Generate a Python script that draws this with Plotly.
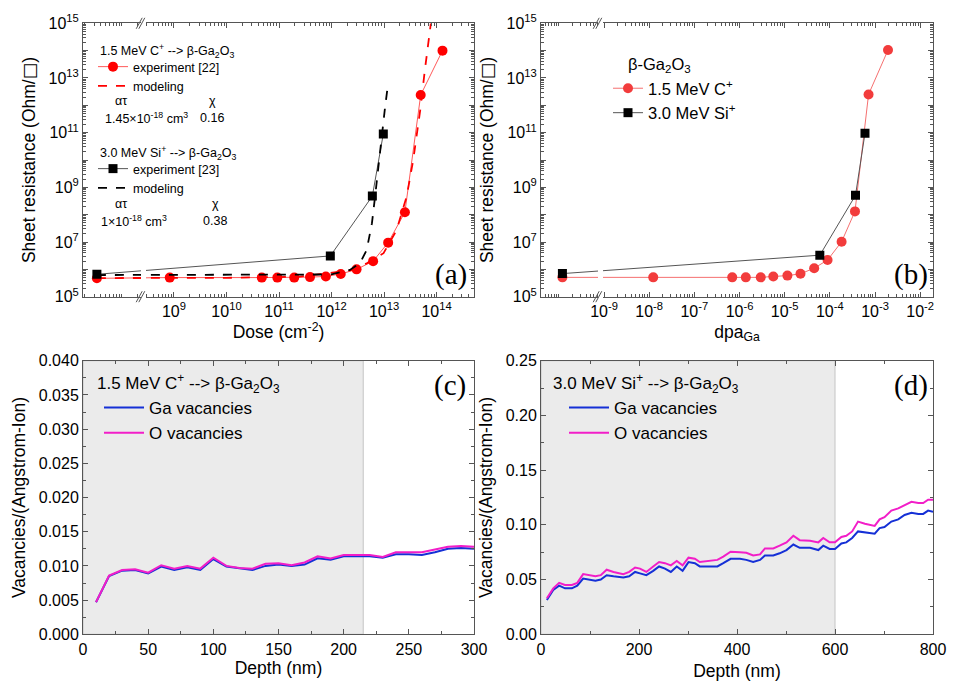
import plotly.graph_objects as go

# page is shown with an 8 px body margin, so the figure is 958x686 and
# all reference-pixel positions are shifted by that margin
OFF = 8
W, H = 966 - OFF, 694 - OFF
FONT = "Liberation Sans, Arial, sans-serif"

# ---------------- data: panel (a) sheet resistance vs dose ----------------
VIRGIN_DOSE = 3.4e7          # plotting position of the unirradiated sample (left of axis break)
VIRGIN_DPA = 1.2e-10

dose_C = [VIRGIN_DOSE, 8.3e8, 4.7e10, 9.3e10, 1.95e11, 3.9e11, 7.8e11, 1.5e12,
          3.0e12, 6.2e12, 1.2e13, 2.5e13, 5.0e13, 1.3e14]
rs_C = [4.7e5, 5.0e5, 5.0e5, 5.0e5, 5.0e5, 5.2e5, 5.5e5, 6.8e5,
        1.0e6, 2.0e6, 9.5e6, 1.23e8, 2.4e12, 1.0e14]

dose_Si = [VIRGIN_DOSE, 9.5e11, 6.0e12, 9.7e12]
rs_Si = [6.6e5, 3.1e6, 4.8e8, 9.0e10]

model_dose_C = [VIRGIN_DOSE, 1.0e10, 2.5e11, 2.6e12, 4.7e12, 9.8e12, 1.74e13,
                2.7e13, 3.6e13, 4.9e13, 6.0e13, 7.8e13]
model_rs_C = [4.8e5, 4.9e5, 5.4e5, 9.5e5, 1.66e6, 3.9e6, 2.75e7,
              4.6e8, 1.0e10, 6.8e11, 1.95e13, 1.0e15]

model_dose_Si = [VIRGIN_DOSE, 1.0e10, 2.5e11, 1.0e12, 2.24e12, 3.47e12, 4.68e12,
                 5.89e12, 6.76e12, 7.76e12, 9.12e12, 1.05e13, 1.2e13]
model_rs_Si = [6.2e5, 6.2e5, 6.2e5, 6.5e5, 9.5e5, 1.66e6, 5.1e6,
               4.9e7, 4.6e8, 5.75e9, 7.1e10, 8.9e11, 6.5e12]

# ---------------- data: panel (b) sheet resistance vs dpa ----------------
dpa_C = [VIRGIN_DPA, 1.23e-8, 6.9e-7, 1.38e-6, 2.95e-6, 5.6e-6, 1.15e-5, 2.24e-5,
         4.5e-5, 8.9e-5, 1.82e-4, 3.6e-4, 7.2e-4, 1.94e-3]
rs_C_b = [5.1e5, 5.1e5, 5.1e5, 5.1e5, 5.1e5, 5.5e5, 5.9e5, 6.9e5,
          1.1e6, 2.2e6, 1.02e7, 1.32e8, 2.5e12, 1.05e14]
dpa_Si = [VIRGIN_DPA, 6.0e-5, 3.7e-4, 6.0e-4]
rs_Si_b = [7.0e5, 3.3e6, 5.1e8, 9.5e10]

# ---------------- data: panel (c) vacancies, 1.5 MeV C+ ----------------
depth_c = [10, 20, 30, 40, 50, 60, 70, 80, 90, 100, 110, 120, 130, 140, 150,
           160, 170, 180, 190, 200, 210, 220, 230, 240, 250, 260, 270, 280, 290, 300]
ga_c = [0.00468, 0.00853, 0.0093, 0.0094, 0.0089, 0.0099, 0.0094, 0.0098, 0.0094, 0.0110,
        0.0099, 0.0096, 0.0094, 0.0100, 0.0102, 0.0100, 0.0102, 0.0111, 0.0109, 0.0114,
        0.0114, 0.0114, 0.0112, 0.0117, 0.0117, 0.0116, 0.0120, 0.0125, 0.0126, 0.0125]
o_c = [0.0047, 0.0086, 0.0094, 0.0095, 0.0090, 0.0101, 0.0096, 0.0100, 0.0096, 0.0112,
       0.0100, 0.0097, 0.0096, 0.0103, 0.0104, 0.0101, 0.0105, 0.0114, 0.0111, 0.0116,
       0.0116, 0.0116, 0.0113, 0.0120, 0.0120, 0.0120, 0.0124, 0.0128, 0.0129, 0.0128]

# ---------------- data: panel (d) vacancies, 3.0 MeV Si+ ----------------
depth_d = [12, 25, 37, 49, 63, 74, 86, 100, 111, 122, 134, 148, 168, 180, 192, 202, 215,
           229, 241, 253, 265, 277, 289, 301, 314, 324, 345, 360, 372, 387, 406, 419, 433,
           447, 457, 474, 487, 501, 515, 528, 549, 566, 576, 589, 600, 613, 623, 635, 647,
           661, 681, 691, 701, 715, 729, 742, 756, 770, 780, 790, 800]
ga_d = [0.0314, 0.0405, 0.0445, 0.042, 0.042, 0.0445, 0.051, 0.050, 0.049, 0.050,
        0.054, 0.053, 0.052, 0.053, 0.057, 0.0557, 0.054, 0.058, 0.062, 0.060,
        0.057, 0.062, 0.058, 0.066, 0.065, 0.062, 0.062, 0.062, 0.065, 0.069,
        0.069, 0.068, 0.066, 0.068, 0.072, 0.072, 0.074, 0.077, 0.082, 0.079,
        0.079, 0.077, 0.081, 0.078, 0.078, 0.083, 0.084, 0.088, 0.094, 0.093,
        0.092, 0.097, 0.098, 0.103, 0.105, 0.109, 0.111, 0.110, 0.110, 0.113, 0.112]
o_d = [0.033, 0.042, 0.047, 0.045, 0.045, 0.047, 0.055, 0.054, 0.053, 0.054,
       0.059, 0.057, 0.055, 0.057, 0.061, 0.060, 0.057, 0.062, 0.066, 0.065,
       0.063, 0.067, 0.063, 0.070, 0.069, 0.066, 0.067, 0.068, 0.071, 0.0755,
       0.075, 0.0745, 0.072, 0.073, 0.0785, 0.0785, 0.081, 0.084, 0.090, 0.086,
       0.0855, 0.084, 0.088, 0.084, 0.084, 0.089, 0.090, 0.094, 0.103, 0.101,
       0.099, 0.105, 0.107, 0.113, 0.115, 0.118, 0.121, 0.120, 0.120, 0.123, 0.123]

SHADE_C = 215   # nm, shaded (probed) depth
SHADE_D = 600

# tick labels
y_exps = list(range(5, 16))
y_ticktext = [f"10<sup>{e}</sup>" if (e % 2 == 1) else "" for e in y_exps]
xa_exps = list(range(9, 15))
xb_exps = list(range(-9, -1))

# ---------------- helpers (reference-pixel -> paper) ----------------
def px(x):
    return (x - OFF) / W

def py(y):
    return 1 - (y - OFF) / H

RED = "#ff0000"
RED_LINE = "#ff5a5a"
RED_B = "#f23c3c"
RED_B_LINE = "#f57070"
BLUE = "#1530d6"
MAG = "#f21ec8"
AXC = "#555555"

fig = go.Figure()

# panel (a)
fig.add_trace(go.Scatter(x=dose_C, y=rs_C, mode="lines+markers", name="experiment [22]",
                         line=dict(color=RED_LINE, width=1),
                         marker=dict(color=RED, size=10, symbol="circle"),
                         xaxis="x", yaxis="y", legend="legend"))
fig.add_trace(go.Scatter(x=model_dose_C, y=model_rs_C, mode="lines", name="modeling",
                         line=dict(color=RED, width=1.8, dash="dash"),
                         xaxis="x", yaxis="y", legend="legend"))
fig.add_trace(go.Scatter(x=dose_Si, y=rs_Si, mode="lines+markers", name="experiment [23]",
                         line=dict(color="#555555", width=1),
                         marker=dict(color="#000000", size=9, symbol="square"),
                         xaxis="x", yaxis="y", legend="legend2"))
fig.add_trace(go.Scatter(x=model_dose_Si, y=model_rs_Si, mode="lines", name="modeling",
                         line=dict(color="#000000", width=1.8, dash="dash"),
                         xaxis="x", yaxis="y", legend="legend2"))

# panel (b)
fig.add_trace(go.Scatter(x=dpa_C, y=rs_C_b, mode="lines+markers",
                         name="1.5 MeV C<sup>+</sup>",
                         line=dict(color=RED_B_LINE, width=1),
                         marker=dict(color=RED_B, size=10, symbol="circle"),
                         xaxis="x2", yaxis="y2", legend="legend3"))
fig.add_trace(go.Scatter(x=dpa_Si, y=rs_Si_b, mode="lines+markers",
                         name="3.0 MeV Si<sup>+</sup>",
                         line=dict(color="#555555", width=1),
                         marker=dict(color="#000000", size=9, symbol="square"),
                         xaxis="x2", yaxis="y2", legend="legend3"))

# panel (c)
fig.add_trace(go.Scatter(x=depth_c, y=ga_c, mode="lines", name="Ga vacancies",
                         line=dict(color=BLUE, width=2), xaxis="x3", yaxis="y3", legend="legend4"))
fig.add_trace(go.Scatter(x=depth_c, y=o_c, mode="lines", name="O vacancies",
                         line=dict(color=MAG, width=2), xaxis="x3", yaxis="y3", legend="legend4"))
# panel (d)
fig.add_trace(go.Scatter(x=depth_d, y=ga_d, mode="lines", name="Ga vacancies",
                         line=dict(color=BLUE, width=2), xaxis="x4", yaxis="y4", legend="legend5"))
fig.add_trace(go.Scatter(x=depth_d, y=o_d, mode="lines", name="O vacancies",
                         line=dict(color=MAG, width=2), xaxis="x4", yaxis="y4", legend="legend5"))

# ---------------- axes ----------------
dom_x_left = [px(83), px(474)]
dom_x_right = [px(541), px(933)]
dom_y_top = [py(296.7), py(23.3)]
dom_y_bot = [py(634.3), py(360.7)]

tickfont = dict(family=FONT, size=16, color="#000")
titlefont = dict(family=FONT, size=17.5, color="#000")

def base_axis(**kw):
    d = dict(showline=True, linecolor=AXC, linewidth=1, mirror="allticks",
             ticks="inside", ticklen=5, tickcolor=AXC, tickwidth=1,
             showgrid=False, zeroline=False, tickfont=tickfont, automargin=False)
    d.update(kw)
    return d

minor_log_y = dict(ticks="inside", ticklen=3, tickcolor=AXC, showgrid=False,
                   tickmode="array",
                   tickvals=[m * 10.0 ** k for k in range(5, 15) for m in range(2, 10)])

SR_TITLE = "Sheet resistance (Ohm/<span style=\"font-family:'DejaVu Sans'\">\u25a1</span>)"

fig.update_layout(
    xaxis=base_axis(type="log", domain=dom_x_left, range=[7.267, 14.714], anchor="y",
                    tickmode="array", tickvals=[10.0 ** e for e in xa_exps],
                    ticktext=[f"10<sup>{e}</sup>" for e in xa_exps],
                    minor=dict(ticks="inside", ticklen=3, tickcolor=AXC, showgrid=False,
                               tickmode="array",
                               tickvals=[m * 10.0 ** k for k in range(7, 15) for m in range(1, 10)
                                         if not (k >= 9 and m == 1)]),
                    title=dict(text="Dose (cm<sup>-2</sup>)", font=titlefont, standoff=6)),
    yaxis=base_axis(type="log", domain=dom_y_top, range=[5, 15], anchor="x",
                    tickmode="array", tickvals=[10.0 ** e for e in y_exps], ticktext=y_ticktext,
                    minor=minor_log_y,
                    title=dict(text=SR_TITLE, font=titlefont, standoff=8)),
    xaxis2=base_axis(type="log", domain=dom_x_right, range=[-10.395, -1.716], anchor="y2",
                     tickmode="array", tickvals=[10.0 ** e for e in xb_exps],
                     ticktext=[f"10<sup>{e}</sup>" for e in xb_exps],
                     minor=dict(ticks="inside", ticklen=3, tickcolor=AXC, showgrid=False,
                                tickmode="array",
                                tickvals=[m * 10.0 ** k for k in range(-11, -1) for m in range(1, 10)
                                          if not (k >= -9 and m == 1)]),
                     title=dict(text="dpa<sub>Ga</sub>", font=titlefont, standoff=6)),
    yaxis2=base_axis(type="log", domain=dom_y_top, range=[5, 15], anchor="x2",
                     tickmode="array", tickvals=[10.0 ** e for e in y_exps], ticktext=y_ticktext,
                     minor=minor_log_y,
                     title=dict(text=SR_TITLE, font=titlefont, standoff=8)),
    xaxis3=base_axis(domain=dom_x_left, range=[0, 300], anchor="y3", tickmode="linear",
                     tick0=0, dtick=50,
                     minor=dict(ticks="inside", ticklen=3, tickcolor=AXC, dtick=25, showgrid=False),
                     title=dict(text="Depth (nm)", font=titlefont, standoff=4)),
    yaxis3=base_axis(domain=dom_y_bot, range=[0, 0.04], anchor="x3", tickmode="linear",
                     tick0=0, dtick=0.005, tickformat=".3f",
                     minor=dict(ticks="inside", ticklen=3, tickcolor=AXC, dtick=0.0025, showgrid=False),
                     title=dict(text="Vacancies/(Angstrom-Ion)", font=titlefont, standoff=8)),
    xaxis4=base_axis(domain=dom_x_right, range=[0, 800], anchor="y4", tickmode="linear",
                     tick0=0, dtick=200,
                     minor=dict(ticks="inside", ticklen=3, tickcolor=AXC, dtick=100, showgrid=False),
                     title=dict(text="Depth (nm)", font=titlefont, standoff=8)),
    yaxis4=base_axis(domain=dom_y_bot, range=[0, 0.25], anchor="x4", tickmode="linear",
                     tick0=0, dtick=0.05, tickformat=".2f",
                     minor=dict(ticks="inside", ticklen=3, tickcolor=AXC, dtick=0.025, showgrid=False),
                     title=dict(text="Vacancies/(Angstrom-Ion)", font=titlefont, standoff=8)),
)

# ---------------- legends (items only; group titles are annotations) ----------------
def legend_cfg(x, y, size, itemwidth=30):
    return dict(x=px(x), y=py(y), xanchor="left", yanchor="top", xref="paper", yref="paper",
                bgcolor="rgba(0,0,0,0)", borderwidth=0,
                font=dict(family=FONT, size=size, color="#000"),
                tracegroupgap=0, itemwidth=itemwidth)

fig.update_layout(
    legend=legend_cfg(93, 52, 12.5),
    legend2=legend_cfg(93, 154, 12.5),
    legend3=legend_cfg(608, 71, 16.5),
    legend4=legend_cfg(99, 390, 17, itemwidth=40),
    legend5=legend_cfg(564, 390, 17, itemwidth=40),
)

TITLE_C = "1.5 MeV C<sup>+</sup> --> \u03b2-Ga<sub>2</sub>O<sub>3</sub>"
TITLE_SI = "3.0 MeV Si<sup>+</sup> --> \u03b2-Ga<sub>2</sub>O<sub>3</sub>"

# ---------------- annotations ----------------
ann = []
def text(x, y, s, size=12.5, xanchor="left", family=FONT):
    ann.append(dict(x=px(x), y=py(y), xref="paper", yref="paper", text=s, showarrow=False,
                    xanchor=xanchor, yanchor="middle",
                    font=dict(family=family, size=size, color="#000")))

text(98, 51, TITLE_C)
text(121, 101, "\u03b1\u03c4", xanchor="center")
text(212, 101, "\u03c7", xanchor="center")
text(103, 118, "1.45\u00d710<sup>-18</sup> cm<sup>3</sup>")
text(212, 118, "0.16", xanchor="center")
text(98, 153, TITLE_SI)
text(121, 204, "\u03b1\u03c4", xanchor="center")
text(215, 204, "\u03c7", xanchor="center")
text(99, 221, "1\u00d710<sup>-18</sup> cm<sup>3</sup>")
text(215, 221, "0.38", xanchor="center")

text(626, 65, "\u03b2-Ga<sub>2</sub>O<sub>3</sub>", size=16.5)
text(95, 384, TITLE_C, size=17)
text(551, 384, TITLE_SI, size=17)

SERIF = "Liberation Serif, Times New Roman, serif"
text(451, 274, "(a)", size=29, xanchor="center", family=SERIF)
text(911, 274, "(b)", size=29, xanchor="center", family=SERIF)
text(450, 385, "(c)", size=29, xanchor="center", family=SERIF)
text(911, 385, "(d)", size=29, xanchor="center", family=SERIF)
fig.update_layout(annotations=ann)

# ---------------- shapes: shaded depth ranges and axis breaks ----------------
shapes = [
    dict(type="rect", xref="x3", yref="y3 domain", x0=0, x1=SHADE_C, y0=0, y1=1,
         fillcolor="#ebebeb", line=dict(color="#c4c4c4", width=1), layer="below"),
    dict(type="rect", xref="x4", yref="y4 domain", x0=0, x1=SHADE_D, y0=0, y1=1,
         fillcolor="#ebebeb", line=dict(color="#c4c4c4", width=1), layer="below"),
]

def axis_break(xref, yref, f0, f1, plot_w, plot_h):
    # white gap plus "//" marks at the bottom and top axis lines
    out = [dict(type="rect", xref=xref, yref=yref, x0=f0, x1=f1, y0=-0.015, y1=1.015,
                fillcolor="white", line=dict(width=0), layer="above")]
    dx = 6.0 / plot_w
    dy = 5.5 / plot_h
    for yc in (0.0, 1.0):
        for xc in (f0 - 0.3 * dx, f1 - 0.7 * dx):
            out.append(dict(type="line", xref=xref, yref=yref,
                            x0=xc - dx / 2, y0=yc - dy, x1=xc + dx / 2, y1=yc + dy,
                            line=dict(color=AXC, width=1), layer="above"))
    return out

shapes += axis_break("x domain", "y domain", 58 / 391, 63 / 391, 391, 273.4)
shapes += axis_break("x2 domain", "y2 domain", 57 / 392, 62 / 392, 392, 273.4)
fig.update_layout(shapes=shapes)

fig.update_layout(width=W, height=H, margin=dict(l=0, r=0, t=0, b=0),
                  paper_bgcolor="white", plot_bgcolor="rgba(0,0,0,0)",
                  font=dict(family=FONT, color="#000"))

fig.write_html("out.html")
